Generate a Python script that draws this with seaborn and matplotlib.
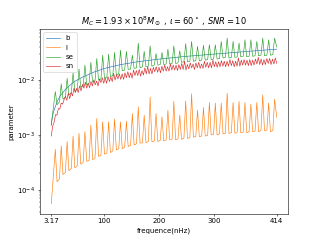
import numpy as np
import matplotlib
matplotlib.use("Agg")
import matplotlib.pyplot as plt
import seaborn as sns

# values, stored as powers of ten
b_freq = [3.17, 5, 7, 10, 15, 20, 30, 45, 60, 80, 100, 130, 160, 200, 250, 300, 350, 414]
b_exp = [-2.82, -2.68, -2.59, -2.50, -2.37, -2.28, -2.16, -2.03, -1.95, -1.86, -1.79,
         -1.72, -1.67, -1.62, -1.57, -1.53, -1.49, -1.44]

# peak, trough start, trough end of every cycle (l and se share them)
osc_freq = [3.17,
            10.5, 13.7, 18.1, 21.3, 24.5, 28.9, 32.1, 35.3, 39.7, 42.9, 46.1, 50.5,
            53.7, 56.9, 61.3, 64.5, 67.7, 72.1, 75.3, 78.5, 82.9, 86.1, 89.3, 93.7,
            96.9, 100.1, 104.5, 107.7, 110.9, 115.3, 118.5, 121.7, 126.1, 129.3, 132.5, 136.9,
            140.1, 143.3, 147.7, 150.9, 154.1, 158.5, 161.7, 164.9, 169.3, 172.5, 175.7, 180.1,
            183.3, 186.5, 190.9, 194.1, 197.3, 201.7, 204.9, 208.1, 212.5, 215.7, 218.9, 223.3,
            226.5, 229.7, 234.1, 237.3, 240.5, 244.9, 248.1, 251.3, 255.7, 258.9, 262.1, 266.5,
            269.7, 272.9, 277.3, 280.5, 283.7, 288.1, 291.3, 294.5, 298.9, 302.1, 305.3, 309.7,
            312.9, 316.1, 320.5, 323.7, 326.9, 331.3, 334.5, 337.7, 342.1, 345.3, 348.5, 352.9,
            356.1, 359.3, 363.7, 366.9, 370.1, 374.5, 377.7, 380.9, 385.3, 388.5, 391.7, 396.1,
            399.3, 402.5, 406.9, 410.1,
            414]
l_exp = [-4.25,
         -3.26, -3.85, -3.80, -3.20, -3.72, -3.68, -3.12, -3.65, -3.61, -3.02, -3.60, -3.56,
         -2.97, -3.53, -3.50, -2.94, -3.48, -3.46, -2.82, -3.45, -3.42, -2.70, -3.39, -3.37,
         -2.76, -3.35, -3.33, -2.76, -3.32, -3.29, -2.71, -3.27, -3.25, -2.76, -3.25, -3.22,
         -2.75, -3.21, -3.19, -2.61, -3.18, -3.16, -2.49, -3.15, -3.14, -2.64, -3.14, -3.12,
         -2.31, -3.12, -3.11, -2.61, -3.12, -3.10, -2.67, -3.11, -3.09, -2.55, -3.09, -3.08,
         -2.39, -3.09, -3.07, -2.64, -3.08, -3.06, -2.38, -3.06, -3.05, -2.25, -3.04, -3.03,
         -2.55, -3.03, -3.02, -2.50, -3.02, -3.01, -2.41, -3.00, -2.99, -2.42, -3.00, -2.98,
         -2.42, -2.98, -2.97, -2.24, -2.97, -2.96, -2.41, -2.97, -2.95, -2.39, -2.96, -2.95,
         -2.41, -2.96, -2.94, -2.44, -2.94, -2.93, -2.41, -2.94, -2.92, -2.27, -2.92, -2.91,
         -2.42, -2.94, -2.92, -2.35,
         -2.68]
se_exp = [-2.82,
          -2.21, -2.45, -2.40, -2.07, -2.35, -2.31, -1.97, -2.27, -2.23, -1.87, -2.20, -2.17,
          -1.80, -2.13, -2.11, -1.73, -2.09, -2.06, -1.68, -2.04, -2.02, -1.61, -2.00, -1.98,
          -1.55, -1.97, -1.95, -1.53, -1.94, -1.92, -1.50, -1.91, -1.89, -1.46, -1.83, -1.82,
          -1.48, -1.81, -1.80, -1.55, -1.79, -1.78, -1.33, -1.78, -1.76, -1.48, -1.76, -1.75,
          -1.38, -1.75, -1.73, -1.52, -1.73, -1.72, -1.50, -1.72, -1.71, -1.44, -1.71, -1.70,
          -1.38, -1.70, -1.69, -1.47, -1.68, -1.67, -1.34, -1.67, -1.66, -1.30, -1.66, -1.65,
          -1.39, -1.65, -1.64, -1.37, -1.64, -1.63, -1.36, -1.63, -1.62, -1.36, -1.62, -1.61,
          -1.30, -1.60, -1.59, -1.24, -1.60, -1.59, -1.30, -1.59, -1.58, -1.33, -1.58, -1.57,
          -1.27, -1.58, -1.57, -1.27, -1.57, -1.56, -1.30, -1.56, -1.55, -1.24, -1.56, -1.55,
          -1.27, -1.55, -1.54, -1.24,
          -1.40]

# noisy sn curve on the frequency bins
sn_exp = [-3.02, -2.84, -2.77, -2.63, -2.64, -2.52, -2.53, -2.42, -2.44, -2.36,
          -2.30, -2.37, -2.24, -2.34, -2.23, -2.29, -2.15, -2.23, -2.15, -2.23,
          -2.11, -2.20, -2.08, -2.15, -2.04, -2.15, -2.06, -2.14, -2.03, -2.11,
          -2.00, -2.09, -2.02, -2.11, -1.98, -2.05, -1.96, -2.06, -1.96, -2.06,
          -1.94, -2.03, -1.95, -2.03, -1.88, -2.00, -1.91, -1.98, -1.89, -1.99,
          -1.89, -1.99, -1.87, -1.96, -1.85, -1.96, -1.87, -1.97, -1.82, -1.92,
          -1.83, -1.92, -1.81, -1.93, -1.83, -1.91, -1.78, -1.89, -1.76, -1.89,
          -1.79, -1.89, -1.77, -1.85, -1.76, -1.86, -1.77, -1.87, -1.75, -1.84,
          -1.73, -1.84, -1.76, -1.84, -1.71, -1.82, -1.73, -1.82, -1.73, -1.83,
          -1.72, -1.81, -1.70, -1.81, -1.66, -1.82, -1.72, -1.80, -1.69, -1.78,
          -1.71, -1.81, -1.69, -1.78, -1.68, -1.79, -1.71, -1.79, -1.66, -1.77,
          -1.68, -1.78, -1.68, -1.78, -1.64, -1.76, -1.67, -1.77, -1.67, -1.76,
          -1.65, -1.75, -1.66, -1.76, -1.66, -1.75, -1.63, -1.74, -1.65, -1.76,
          -1.66, -1.75, -1.60, -1.75, -1.64, -1.73, -1.63, -1.73, -1.64, -1.74,
          -1.63, -1.74, -1.64, -1.73, -1.62, -1.71, -1.59, -1.72, -1.62, -1.73,
          -1.63, -1.72, -1.61, -1.70, -1.61, -1.72, -1.62, -1.71, -1.60, -1.70]
sn_freq = np.linspace(3.17, 414, len(sn_exp))

tick_vals = [3.17, 100, 200, 300, 414]
tick_labels = ['3.17', '100', '200', '300', '414']

plt.rcParams['lines.linewidth'] = 0.9

fig, ax = plt.subplots(figsize=(6.4, 4.8), dpi=50)

sns.lineplot(x=b_freq, y=10 ** np.array(b_exp), ax=ax, color='tab:blue', label='b')
sns.lineplot(x=osc_freq, y=10 ** np.array(l_exp), ax=ax, color='tab:orange', label='l')
sns.lineplot(x=osc_freq, y=10 ** np.array(se_exp), ax=ax, color='tab:green', label='se')
sns.lineplot(x=sn_freq, y=10 ** np.array(sn_exp), ax=ax, color='tab:red', label='sn')

ax.set_yscale('log')
ax.set_ylim(10 ** -4.43, 10 ** -1.07)
ax.set_xticks(tick_vals)
ax.set_xticklabels(tick_labels)
ax.set_xlabel('frequence(nHz)')
ax.set_ylabel('parameter')
ax.set_title(r'$M_C=1.93\times10^8M_\odot$ , $\iota=60^\circ$ , $SNR=10$')
ax.legend(loc='upper left')

fig.savefig('out.png', dpi=50)
